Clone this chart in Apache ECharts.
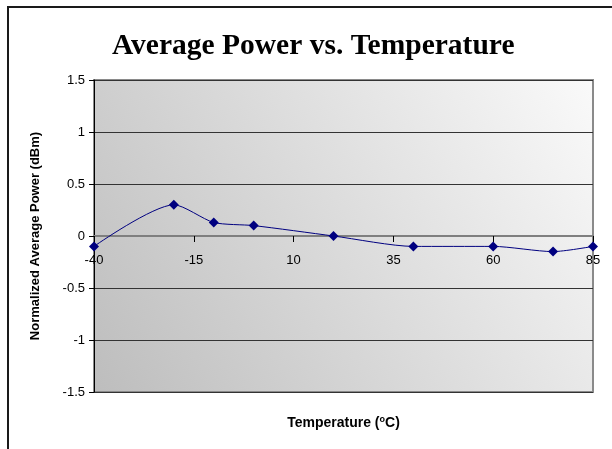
<!DOCTYPE html>
<html>
<head>
<meta charset="utf-8">
<script src="https://cdn.jsdelivr.net/npm/echarts@6/dist/echarts.min.js"></script>
<style>
html,body{margin:0;padding:0;background:#fff;}
#c{width:612px;height:449px;}
</style>
</head>
<body>
<div id="c"></div>
<script>
var titleText = 'Average Power vs. Temperature';
var temperatures = [-40, -20, -10, 0, 20, 40, 60, 75, 85];
var powerValues = [-0.1, 0.3, 0.13, 0.1, 0.0, -0.1, -0.1, -0.15, -0.1];
var xTickValues = [-40, -15, 10, 35, 60, 85];
var yTickMin = -1.5, yTickMax = 1.5, yTickStep = 0.5;

var chart = echarts.init(document.getElementById('c'), null, {renderer: 'canvas'});
var points = temperatures.map(function (t, i) { return [t, powerValues[i]]; });

chart.setOption({
  animation: false,
  backgroundColor: '#ffffff',
  title: {
    text: titleText,
    left: 107,
    top: 26,
    textStyle: {fontFamily: 'Liberation Serif', fontSize: 29.5, fontWeight: 'bold', color: '#000'}
  },
  graphic: [
    {type: 'rect', shape: {x: 7, y: 6, width: 620, height: 2}, style: {fill: '#1a1a1a'}},
    {type: 'rect', shape: {x: 7, y: 6, width: 2, height: 460}, style: {fill: '#1a1a1a'}}
  ],
  grid: {
    left: 94, right: 19, top: 80, bottom: 57,
    outerBoundsMode: 'none',
    containLabel: false,
    show: true,
    borderColor: '#8a8a8a',
    borderWidth: 2,
    backgroundColor: new echarts.graphic.LinearGradient(0, 1, 1, 0, [
      {offset: 0, color: '#bdbdbd'},
      {offset: 1, color: '#fafafa'}
    ])
  },
  xAxis: {
    type: 'value',
    min: -40, max: 85,
    offset: -156,
    name: 'Temperature ({s|o}C)',
    nameLocation: 'middle',
    nameGap: 179,
    nameTextStyle: {
      fontFamily: 'Liberation Sans', fontSize: 14, fontWeight: 'bold', color: '#000',
      rich: {s: {fontFamily: 'Liberation Sans', fontSize: 9, fontWeight: 'bold', verticalAlign: 'top', padding: [0, 0, 8, 0], color: '#000'}}
    },
    axisLine: {onZero: false, lineStyle: {color: '#7f7f7f', width: 2}},
    axisTick: {show: true, length: 6, customValues: xTickValues, lineStyle: {color: '#000', width: 1}},
    axisLabel: {customValues: xTickValues, fontFamily: 'Liberation Sans', fontSize: 13, color: '#000', margin: 18},
    splitLine: {show: false}
  },
  yAxis: {
    type: 'value',
    min: yTickMin, max: yTickMax, interval: yTickStep,
    name: 'Normalized Average Power (dBm)',
    nameLocation: 'middle',
    nameGap: 52,
    nameTextStyle: {fontFamily: 'Liberation Sans', fontSize: 13, fontWeight: 'bold', color: '#000'},
    axisLine: {show: true, onZero: false, lineStyle: {color: '#000', width: 1}},
    axisTick: {show: true, length: 5, lineStyle: {color: '#000'}},
    axisLabel: {fontFamily: 'Liberation Sans', fontSize: 13, color: '#000', margin: 9},
    splitLine: {show: true, lineStyle: {color: '#333', width: 1}}
  },
  series: [{
    type: 'line',
    data: points,
    smooth: 0.25,
    symbol: 'diamond',
    symbolSize: 10,
    z: 10,
    itemStyle: {color: '#000080'},
    lineStyle: {color: '#000080', width: 1}
  }]
});
</script>
</body>
</html>
